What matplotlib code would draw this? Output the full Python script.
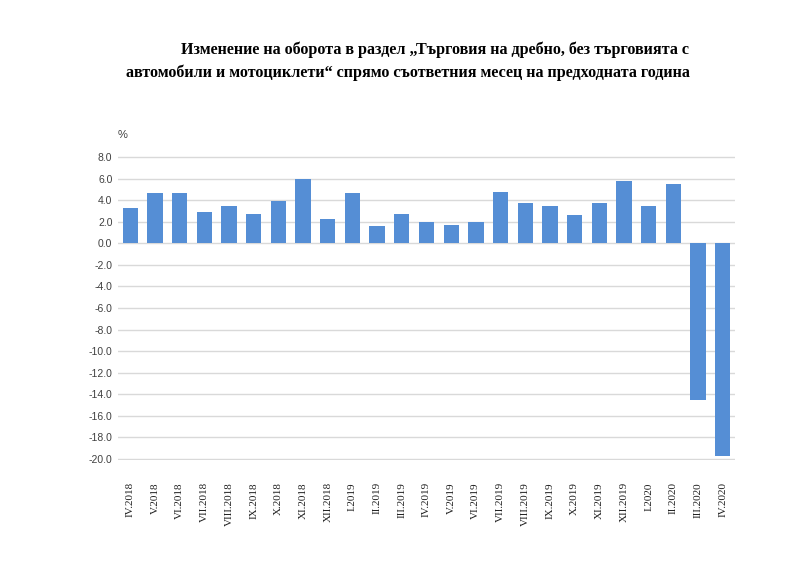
import matplotlib
matplotlib.use("Agg")
import matplotlib.pyplot as plt
import numpy as np

months = ["IV.2018", "V.2018", "VI.2018", "VII.2018", "VIII.2018", "IX.2018", "X.2018",
          "XI.2018", "XII.2018", "I.2019", "II.2019", "III.2019", "IV.2019", "V.2019",
          "VI.2019", "VII.2019", "VIII.2019", "IX.2019", "X.2019", "XI.2019", "XII.2019",
          "I.2020", "II.2020", "III.2020", "IV.2020"]
change = [3.3, 4.7, 4.7, 2.9, 3.5, 2.7, 3.9, 6.0, 2.3, 4.7, 1.6, 2.7, 2.0, 1.7,
          2.0, 4.8, 3.7, 3.5, 2.6, 3.7, 5.8, 3.5, 5.5, -14.5, -19.7]
yticks = np.arange(-20, 9, 2)

fig = plt.figure(figsize=(8.01, 5.77), dpi=100)
ax = fig.add_axes([118 / 801, 1 - 460 / 577, 617 / 801, 304 / 577])

x = np.arange(len(months))
ax.bar(x, change, width=0.62, color="#558ed5", zorder=3)

ax.set_xlim(-0.5, len(months) - 0.5)
ax.set_ylim(-20.1, 8.1)
ax.set_yticks(yticks)
ax.set_yticklabels([f"{v:.1f}" for v in yticks], fontsize=7.5, color="#404040",
                   family="Liberation Sans")
ax.set_xticks(x)
ax.set_xticklabels(months, rotation=90, fontsize=8, family="Liberation Serif",
                   va="top", color="#202020")
ax.tick_params(axis="x", length=0, pad=16)
ax.tick_params(axis="y", length=0, pad=4)
ax.grid(axis="y", color="#d9d9d9", linewidth=1, zorder=0)
for s in ax.spines.values():
    s.set_visible(False)

fig.text(123 / 801, 1 - 135 / 577, "%", fontsize=8, color="#404040",
         family="Liberation Sans", ha="center", va="center")

fig.text(435 / 801, 1 - 50 / 577,
         "Изменение на оборота в раздел „Търговия на дребно, без търговията с",
         fontsize=11.65, fontweight="bold", family="Liberation Serif", ha="center", va="center")
fig.text(408 / 801, 1 - 73 / 577,
         "автомобили и мотоциклети“ спрямо съответния месец на предходната година",
         fontsize=11.65, fontweight="bold", family="Liberation Serif", ha="center", va="center")

fig.savefig("out.png", dpi=100)
